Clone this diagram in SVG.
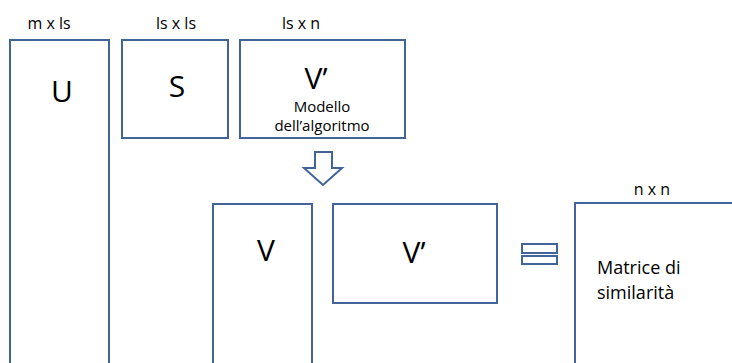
<svg xmlns="http://www.w3.org/2000/svg" width="732" height="363" viewBox="0 0 732 363">
<style>
.box{fill:#fff;stroke:#42649a;stroke-width:2}
.t{font-family:"Open Sans","Liberation Sans",sans-serif;fill:#000}
.dim{font-size:16px;text-anchor:middle}
.big{font-size:30px;text-anchor:middle}
.sm{font-size:15px;text-anchor:middle}
.lab{font-size:18px}
</style>
<rect width="732" height="363" fill="#fff"/>
<g id="U"><rect class="box" x="10" y="40" width="99" height="330"/><text class="t dim" x="49" y="29">m x ls</text><text class="t big" x="62" y="102">U</text></g>
<g id="S"><rect class="box" x="122" y="40" width="106" height="98"/><text class="t dim" x="176" y="29">ls x ls</text><text class="t big" x="177" y="97">S</text></g>
<g id="Vp1"><rect class="box" x="240" y="40" width="165" height="98"/><text class="t dim" x="301" y="29">ls x n</text><text class="t big" x="316" y="89">V’</text><text class="t sm" x="322" y="112">Modello</text><text class="t sm" x="322" y="131">dell’algoritmo</text></g>
<g id="connectors"><path class="box" d="M315,152 H332 V168 H342 L323,185 L304,168 H315 Z"/></g>
<g id="V"><rect class="box" x="213" y="204" width="99" height="170"/><text class="t big" x="266" y="261">V</text></g>
<g id="Vp2"><rect class="box" x="333" y="204" width="164" height="99"/><text class="t big" x="414" y="263">V’</text></g>
<g id="eq"><rect class="box" x="522" y="244" width="35" height="9"/><rect class="box" x="522" y="256" width="35" height="8"/></g>
<g id="M"><rect class="box" x="575" y="203" width="170" height="170"/><text class="t dim" x="652" y="195">n x n</text><text class="t lab" x="597" y="274">Matrice di</text><text class="t lab" x="597" y="299">similarità</text></g>
</svg>
